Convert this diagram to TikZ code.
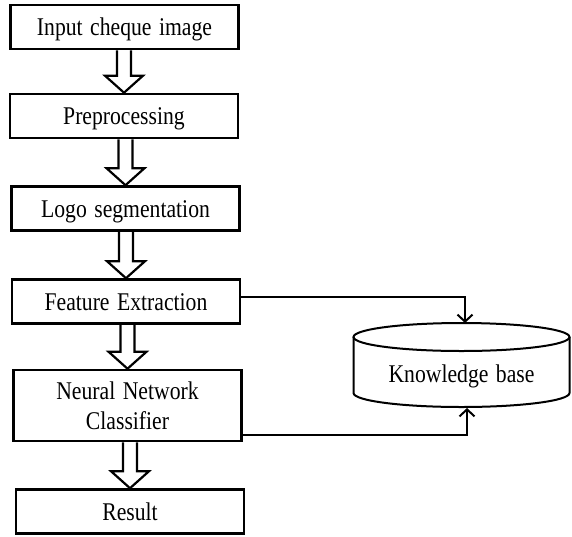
\documentclass[tikz,border=0pt]{standalone}
\usepackage{fontspec}
\setmainfont{Liberation Serif}[FakeStretch=0.85]
\usetikzlibrary{arrows.meta,calc}
% word gap used in the labels
\newcommand\wg{\hspace{7.5pt}}
% hollow block arrow from the bottom of #1 to the top of #2
\newcommand\flowarrow[2]{%
  \draw[flow] ($(#2.north |- #1.south)+(-7,0)$) -- ($(#2.north)+(-7,-17)$)
    -- ($(#2.north)+(-19,-17)$) -- (#2.north) -- ($(#2.north)+(19,-17)$)
    -- ($(#2.north)+(7,-17)$) -- ($(#2.north |- #1.south)+(7,0)$);}
\begin{document}
\begin{tikzpicture}[x=1pt,y=-1pt,
  stepbox/.style={draw,line width=2.6pt,minimum width=228pt,minimum height=44pt,
    inner sep=0pt,align=center,font=\fontsize{25.5}{30}\selectfont},
  oneline/.style={stepbox,text height=17pt,text depth=0pt},
  flow/.style={draw,line width=2.2pt,line join=miter},
  link/.style={draw,line width=2pt,-{Straight Barb[length=7pt,width=15pt,line width=2pt]}},
  dbline/.style={draw,line width=2pt}]
\useasboundingbox (0,0) rectangle (572,536);

% processing steps
\node[oneline] (b1) at (124.5,27)  {Input\wg cheque\wg image};
\node[oneline] (b2) at (124,116)   {Preprocessing};
\node[oneline] (b3) at (125.5,208.5) {Logo\wg segmentation};
\node[oneline] (b4) at (126,301.5) {Feature\wg Extraction};
\node[stepbox,minimum height=71pt] (b5) at (127.5,405.5) {Neural\wg Network\\Classifier};
\node[oneline] (b6) at (130,511.5) {Result};

\flowarrow{b1}{b2}
\flowarrow{b2}{b3}
\flowarrow{b3}{b4}
\flowarrow{b4}{b5}
\flowarrow{b5}{b6}

% knowledge base drum
\node[font=\fontsize{25.5}{30}\selectfont,text height=17pt,text depth=0pt,inner sep=0pt]
  (kb) at (461.5,373.5) {Knowledge\wg base};
\coordinate (kbtop) at (465,323);
\coordinate (kbbot) at (467,408);
\draw[dbline] (461.5,337) ellipse [x radius=108pt, y radius=14pt];
\draw[dbline] (353.5,337) -- (353.5,393)
  arc[start angle=180, end angle=360, x radius=108pt, y radius=14pt] -- (569.5,337);

% links into the knowledge base
\draw[link] ($(b4.east)+(0,-4.5)$) -| (kbtop);
\draw[link] ($(b5.south east)+(0,-7)$) -| (kbbot);
\end{tikzpicture}
\end{document}
